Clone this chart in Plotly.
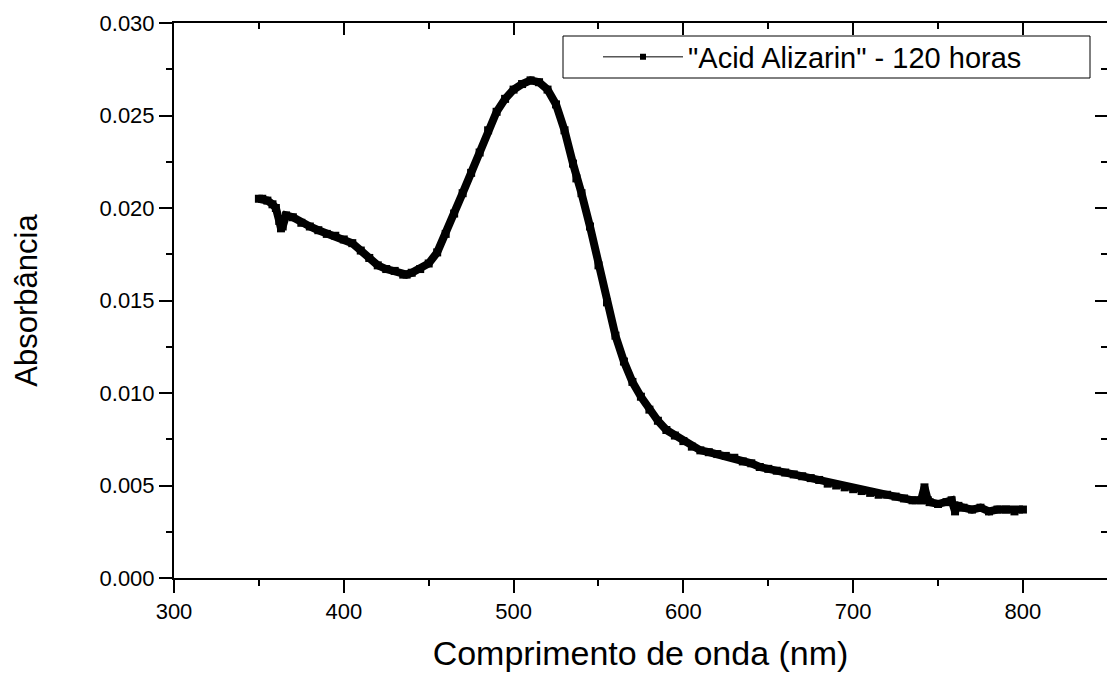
import plotly.graph_objects as go

wavelength_nm = [350, 352, 355, 358, 360, 362, 363, 364, 366, 370, 375, 380, 385, 390, 395,
                 400, 405, 410, 415, 420, 425, 430, 435, 437, 440, 445, 450, 455, 460, 465,
                 470, 475, 480, 485, 490, 495, 500, 505, 510, 515, 520, 525, 530, 535, 537,
                 540, 545, 550, 555, 560, 565, 570, 575, 580, 585, 590, 595, 600, 605, 610,
                 615, 620, 625, 630, 635, 640, 645, 650, 655, 660, 665, 670, 675, 680, 685,
                 690, 695, 700, 705, 710, 715, 720, 725, 730, 735, 740, 742, 744, 745, 750,
                 755, 758, 760, 762, 765, 770, 775, 780, 785, 790, 795, 800]

absorbance = [0.0205, 0.0205, 0.0204, 0.0202, 0.0200, 0.0193, 0.0189, 0.0190, 0.0196, 0.0195,
              0.0192, 0.0190, 0.0188, 0.0186, 0.0185, 0.0183, 0.0181, 0.0177, 0.0173, 0.0169,
              0.0167, 0.0166, 0.0164, 0.0164, 0.0165, 0.0167, 0.0170, 0.0176, 0.0186, 0.0197,
              0.0208, 0.0219, 0.0230, 0.0242, 0.0252, 0.0259, 0.0264, 0.0267, 0.0269, 0.0268,
              0.0264, 0.0256, 0.0242, 0.0224, 0.0216, 0.0208, 0.0190, 0.0169, 0.0149, 0.0131,
              0.0117, 0.0106, 0.0098, 0.0091, 0.0085, 0.0080, 0.0077, 0.0074, 0.0071, 0.0069,
              0.0068, 0.0067, 0.0066, 0.0065, 0.0063, 0.0062, 0.0060, 0.0059, 0.0058, 0.0057,
              0.0056, 0.0055, 0.0054, 0.0053, 0.0051, 0.0050, 0.0049, 0.0048, 0.0047, 0.0046,
              0.0045, 0.0045, 0.0044, 0.0043, 0.0042, 0.0042, 0.0049, 0.0042, 0.0041, 0.0040,
              0.0041, 0.0042, 0.0036, 0.0039, 0.0038, 0.0037, 0.0038, 0.0036, 0.0037, 0.0037,
              0.0036, 0.0037]

series_name = '"Acid Alizarin" - 120 horas'
x_title = "Comprimento de onda (nm)"
y_title = "Absorbância"

FONT = "Liberation Sans, Arial, sans-serif"

fig = go.Figure()

# data band (thick markers + line as in the original)
fig.add_trace(go.Scatter(
    x=wavelength_nm, y=absorbance, mode="lines+markers",
    line=dict(color="black", width=8),
    marker=dict(symbol="square", size=8, color="black"),
    showlegend=False, hoverinfo="x+y"))

# legend entry
fig.add_trace(go.Scatter(
    x=[None], y=[None], mode="lines+markers", name=series_name,
    line=dict(color="black", width=1),
    marker=dict(symbol="square", size=6, color="black")))

axis_common = dict(showline=True, linecolor="black", linewidth=2, showgrid=False,
                   zeroline=False, tickcolor="black", tickwidth=2, automargin=False)

fig.update_layout(
    width=1107, height=674,
    margin=dict(l=174, r=0, t=23, b=96),
    paper_bgcolor="white", plot_bgcolor="white",
    font=dict(family=FONT, color="black", size=22),
    xaxis=dict(range=[300, 849.5], tickmode="linear", tick0=300, dtick=100,
               ticks="outside", ticklen=13,
               minor=dict(dtick=50, ticks="outside", ticklen=6, tickcolor="black", tickwidth=2),
               title=dict(text=x_title, font=dict(size=34), standoff=18),
               tickfont=dict(size=22), **axis_common),
    yaxis=dict(range=[0, 0.030], tickmode="linear", tick0=0, dtick=0.005, tickformat=".3f",
               ticks="outside", ticklen=13,
               minor=dict(dtick=0.0025, ticks="outside", ticklen=6, tickcolor="black", tickwidth=2),
               title=dict(text=y_title, font=dict(size=31), standoff=53),
               tickfont=dict(size=22), **axis_common),
    xaxis2=dict(overlaying="x", matches="x", side="top", range=[300, 849.5],
                tickmode="linear", tick0=300, dtick=100, ticks="inside", ticklen=12,
                showticklabels=False,
                minor=dict(dtick=50, ticks="inside", ticklen=6, tickcolor="black", tickwidth=2),
                **axis_common),
    yaxis2=dict(overlaying="y", matches="y", side="right", range=[0, 0.030],
                tickmode="linear", tick0=0, dtick=0.005, ticks="inside", ticklen=12,
                showticklabels=False,
                minor=dict(dtick=0.0025, ticks="inside", ticklen=6, tickcolor="black", tickwidth=2),
                **axis_common),
    legend=dict(x=(598 - 174) / 933, y=(578 - 57) / 555, xanchor="left", yanchor="middle",
                bgcolor="rgba(0,0,0,0)", borderwidth=0,
                font=dict(size=29, family=FONT), itemwidth=80),
    shapes=[dict(type="rect", xref="paper", yref="paper", layer="above",
                 x0=(563 - 174) / 933, x1=(1090 - 174) / 933,
                 y0=(578 - 78) / 555, y1=(578 - 36) / 555,
                 line=dict(color="black", width=1), fillcolor="white")],
)

# invisible trace to activate the mirrored axes
fig.add_trace(go.Scatter(x=[None], y=[None], xaxis="x2", yaxis="y2",
                         showlegend=False, hoverinfo="skip"))

fig.write_html(
    "out.html",
    config={"displayModeBar": False},
    post_script="document.body.style.margin='0';document.body.style.padding='0';"
                "document.body.style.overflow='hidden';",
)
